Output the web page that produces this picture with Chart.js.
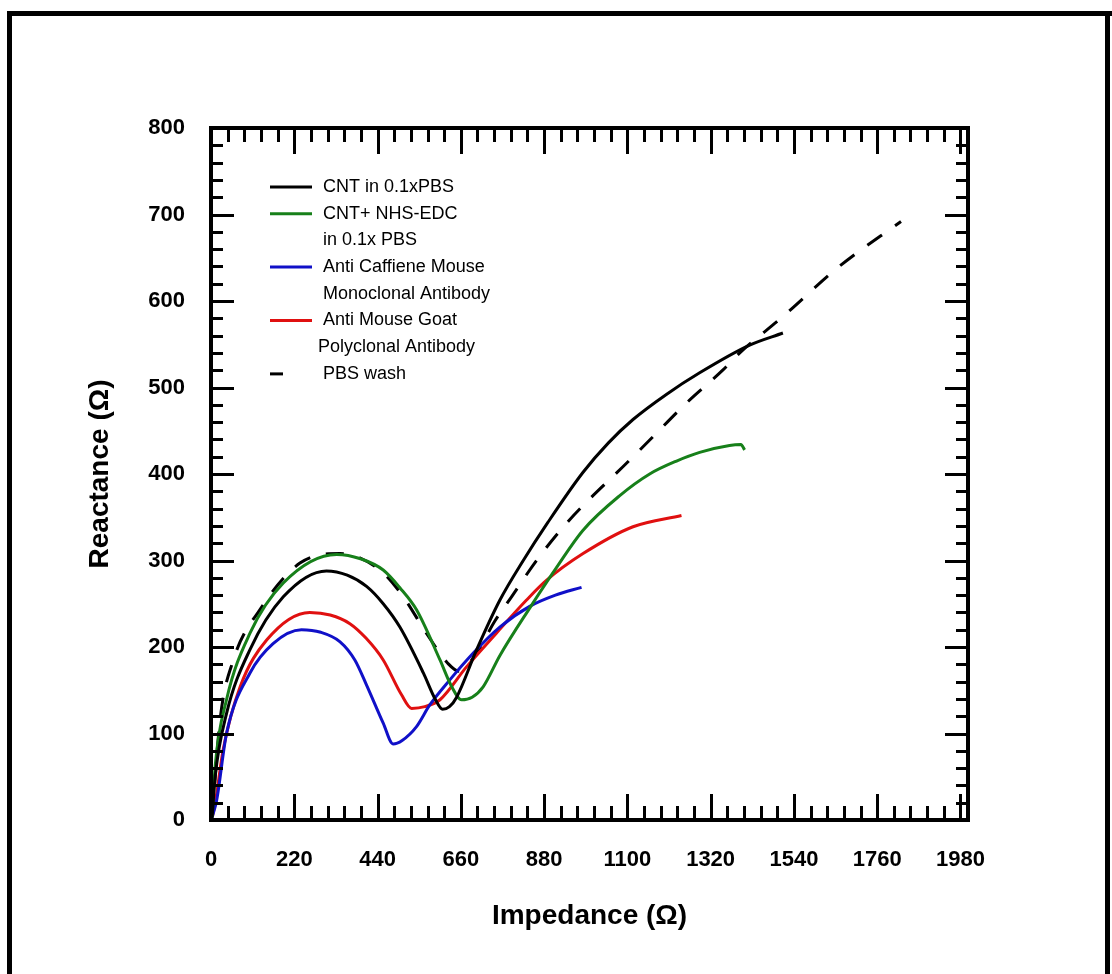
<!DOCTYPE html>
<html>
<head>
<meta charset="utf-8">
<script src="https://cdn.jsdelivr.net/npm/chart.js@4.4.1/dist/chart.umd.min.js"></script>
<style>
  html, body { margin: 0; padding: 0; background: #fff; }
  canvas { display: block; }
</style>
</head>
<body>
<canvas id="nyquist" width="1112" height="974"></canvas>
<script>
// axis tick labels
var xTicks = [0, 220, 440, 660, 880, 1100, 1320, 1540, 1760, 1980];
var yTicks = [0, 100, 200, 300, 400, 500, 600, 700, 800];

// CNT in 0.1xPBS (black)
var cntX = [3, 11, 41, 103, 191, 305, 360, 411, 455, 499, 561, 592, 612, 630, 649, 701, 763, 825, 890, 983, 1050, 1115, 1203, 1291, 1423, 1511];
var cntY = [3, 50, 123, 197, 258, 288, 283, 270, 250, 223, 170, 140, 128, 131, 142, 196, 254, 300, 344, 402, 436, 463, 492, 517, 549, 563];

// CNT+ NHS-EDC in 0.1x PBS (green)
var edcX = [3, 11, 41, 103, 191, 332, 395, 455, 500, 543, 605, 635, 662, 690, 719, 763, 842, 910, 983, 1080, 1159, 1230, 1291, 1370, 1400, 1410];
var edcY = [3, 62, 139, 216, 274, 307, 302, 289, 268, 243, 185, 155, 139, 142, 154, 190, 245, 290, 335, 375, 400, 415, 425, 433, 434, 428];

// Anti Caffiene Mouse Monoclonal Antibody (blue)
var mabX = [3, 15, 41, 103, 164, 239, 290, 341, 380, 411, 455, 481, 505, 543, 578, 631, 693, 763, 842, 910, 979];
var mabY = [3, 23, 100, 170, 204, 220, 217, 206, 185, 156, 112, 88, 92, 108, 133, 162, 193, 223, 247, 260, 269];

// Anti Mouse Goat Polyclonal Antibody (red)
var pabX = [3, 11, 32, 77, 147, 261, 315, 367, 410, 455, 503, 530, 565, 605, 675, 754, 833, 886, 983, 1115, 1243];
var pabY = [3, 19, 81, 154, 208, 240, 237, 227, 210, 185, 145, 129, 131, 139, 177, 216, 254, 277, 308, 339, 352];

// PBS wash (dashed)
var washX = [3, 24, 59, 129, 235, 341, 446, 508, 569, 626, 655, 700, 750, 794, 860, 939, 1106, 1163, 1256, 1352, 1397, 1511, 1660, 1823];
var washY = [3, 116, 185, 243, 297, 308, 289, 258, 216, 181, 172, 192, 230, 258, 300, 343, 416, 441, 482, 520, 540, 582, 640, 692];

var FONT = "'Liberation Sans', Arial, sans-serif";

function pts(xs, ys) {
  return xs.map(function(x, i) { return {x: x, y: ys[i]}; });
}

function series(label, xs, ys, color, dash) {
  return {
    label: label,
    data: pts(xs, ys),
    showLine: true,
    borderColor: color,
    backgroundColor: color,
    borderWidth: 3,
    borderDash: dash || [],
    pointRadius: 0,
    cubicInterpolationMode: 'monotone',
    fill: false
  };
}

var datasets = [
  series('CNT in 0.1xPBS', cntX, cntY, '#000000'),
  series('CNT+ NHS-EDC\nin 0.1x PBS', edcX, edcY, '#17801a'),
  series('Anti Caffiene Mouse\nMonoclonal Antibody', mabX, mabY, '#1010c8'),
  series('Anti Mouse Goat\nPolyclonal Antibody', pabX, pabY, '#e01010'),
  series('PBS wash', washX, washY, '#000000', [18, 16])
];

// white page with the outer box
var pageFrame = {
  id: 'pageFrame',
  beforeDraw: function(chart) {
    var ctx = chart.ctx;
    ctx.save();
    ctx.fillStyle = '#fff';
    ctx.fillRect(0, 0, chart.width, chart.height);
    ctx.fillStyle = '#000';
    ctx.fillRect(7, 11, 1105, 5);
    ctx.fillRect(7, 11, 5, 963);
    ctx.fillRect(1105, 11, 5, 963);
    ctx.restore();
  }
};

// box around the plot with inward ticks on all four sides
var boxTicks = {
  id: 'boxTicks',
  afterDatasetsDraw: function(chart) {
    var ctx = chart.ctx, a = chart.chartArea;
    var xs = chart.scales.x, ys = chart.scales.y;
    ctx.save();
    ctx.strokeStyle = '#000';
    ctx.lineWidth = 3;
    ctx.beginPath();
    for (var v = 0; v <= xs.max; v += 44) {
      var len = v % 220 === 0 ? 26 : 14;
      var px = Math.round(xs.getPixelForValue(v)) + 0.5;
      ctx.moveTo(px, a.bottom); ctx.lineTo(px, a.bottom - len);
      ctx.moveTo(px, a.top); ctx.lineTo(px, a.top + len);
    }
    for (var w = 0; w <= ys.max; w += 20) {
      var l2 = w % 100 === 0 ? 23 : 12;
      var py = Math.round(ys.getPixelForValue(w)) + 0.5;
      ctx.moveTo(a.left, py); ctx.lineTo(a.left + l2, py);
      ctx.moveTo(a.right, py); ctx.lineTo(a.right - l2, py);
    }
    ctx.stroke();
    ctx.lineWidth = 4;
    ctx.strokeRect(a.left, a.top, a.right - a.left, a.bottom - a.top);
    ctx.restore();
  }
};

// legend inside the plot, top left
var boxLegend = {
  id: 'boxLegend',
  afterDraw: function(chart) {
    var ctx = chart.ctx;
    var y = 187;
    ctx.save();
    ctx.font = '18px ' + FONT;
    ctx.textBaseline = 'middle';
    ctx.textAlign = 'left';
    chart.data.datasets.forEach(function(ds) {
      ctx.strokeStyle = ds.borderColor;
      ctx.lineWidth = 3;
      ctx.beginPath();
      if (ds.borderDash.length) {
        ctx.moveTo(270, y); ctx.lineTo(283, y);
      } else {
        ctx.moveTo(270, y); ctx.lineTo(312, y);
      }
      ctx.stroke();
      ctx.fillStyle = '#000';
      ds.label.split('\n').forEach(function(line, k) {
        ctx.fillText(line, k && line.indexOf('Poly') === 0 ? 318 : 323, y);
        y += 26.7;
      });
    });
    ctx.restore();
  }
};

new Chart(document.getElementById('nyquist'), {
  type: 'scatter',
  data: { datasets: datasets },
  plugins: [pageFrame, boxTicks, boxLegend],
  options: {
    responsive: false,
    animation: false,
    layout: { padding: { top: 128, right: 144, bottom: 0, left: 0 } },
    plugins: { legend: { display: false }, tooltip: { enabled: false } },
    scales: {
      x: {
        type: 'linear',
        min: 0,
        max: 2000,
        afterFit: function(s) { s.height = 154; },
        afterBuildTicks: function(s) { s.ticks = xTicks.map(function(v) { return {value: v}; }); },
        grid: { display: false, drawTicks: false },
        border: { display: false },
        ticks: { color: '#000', padding: 27, maxRotation: 0,
                 callback: function(v) { return String(v); },
                 font: { family: FONT, size: 22, weight: 'bold' } },
        title: { display: true, text: 'Impedance (Ω)', color: '#000', padding: { top: 0, bottom: 41 },
                 font: { family: FONT, size: 28, weight: 'bold' } }
      },
      y: {
        type: 'linear',
        min: 0,
        max: 800,
        afterFit: function(s) { s.width = 211; },
        afterBuildTicks: function(s) { s.ticks = yTicks.map(function(v) { return {value: v}; }); },
        grid: { display: false, drawTicks: false },
        border: { display: false },
        ticks: { color: '#000', padding: 26,
                 callback: function(v) { return String(v); },
                 font: { family: FONT, size: 22, weight: 'bold' } },
        title: { display: true, text: 'Reactance (Ω)', color: '#000', padding: { top: 83, bottom: 0 },
                 font: { family: FONT, size: 28, weight: 'bold' } }
      }
    }
  }
});
</script>
</body>
</html>
